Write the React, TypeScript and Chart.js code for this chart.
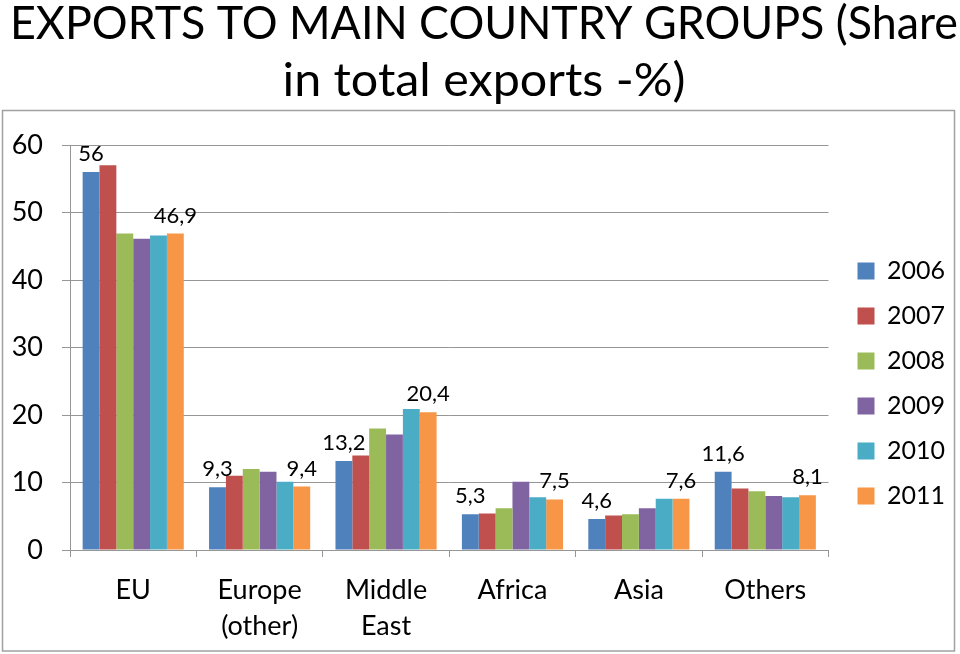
import React, { useEffect, useRef } from 'react';
import { Chart, registerables } from 'chart.js';

Chart.register(...registerables);

const categories: (string | string[])[] = ['EU', ['Europe', '(other)'], ['Middle', 'East'], 'Africa', 'Asia', 'Others'];
const years = ['2006', '2007', '2008', '2009', '2010', '2011'];
const v2006 = [56, 9.3, 13.2, 5.3, 4.6, 11.6];
const v2007 = [57, 11, 14, 5.4, 5.1, 9.1];
const v2008 = [46.9, 12, 18, 6.2, 5.3, 8.7];
const v2009 = [46.1, 11.6, 17.1, 10.1, 6.2, 8];
const v2010 = [46.6, 10.1, 20.9, 7.8, 7.6, 7.8];
const v2011 = [46.9, 9.4, 20.4, 7.5, 7.6, 8.1];
const seriesValues = [v2006, v2007, v2008, v2009, v2010, v2011];
const colors = ['#4F81BD', '#C0504D', '#9BBB59', '#8064A2', '#4BACC6', '#F79646'];
const yTicks = [0, 10, 20, 30, 40, 50, 60];
const titleLines = ['EXPORTS TO MAIN COUNTRY GROUPS (Share', 'in total exports -%)'];
const labeledSeries = [0, 5];

const FONT = 'Lato';
const GRID = '#969696';

const frameTitlePlugin = {
  id: 'frameTitle',
  beforeDraw(chart: any) {
    const ctx = chart.ctx;
    ctx.save();
    ctx.fillStyle = '#ffffff';
    ctx.fillRect(0, 0, chart.width, chart.height);
    ctx.strokeStyle = '#a0a0a0';
    ctx.lineWidth = 1.5;
    ctx.strokeRect(2.5, 110.5, 952, 540.5);
    ctx.font = `47px ${FONT}`;
    ctx.fillStyle = '#000';
    ctx.textAlign = 'center';
    ctx.textBaseline = 'alphabetic';
    const targets = [948, 403];
    const baselines = [39, 96];
    titleLines.forEach((line, i) => {
      const w = ctx.measureText(line).width;
      ctx.save();
      ctx.translate(484, baselines[i]);
      ctx.scale(targets[i] / w, 1);
      ctx.fillText(line, 0, 0);
      ctx.restore();
    });
    ctx.restore();
  },
};

const dataLabelPlugin = {
  id: 'dataLabels',
  afterDatasetsDraw(chart: any) {
    const ctx = chart.ctx;
    ctx.save();
    ctx.font = `22px ${FONT}`;
    ctx.fillStyle = '#000';
    ctx.textAlign = 'center';
    ctx.textBaseline = 'middle';
    labeledSeries.forEach((di) => {
      const meta = chart.getDatasetMeta(di);
      meta.data.forEach((el: any, i: number) => {
        const val = chart.data.datasets[di].data[i];
        ctx.fillText(String(val).replace('.', ','), el.x, el.y - 18);
      });
    });
    ctx.restore();
  },
};

export default function App() {
  const canvasRef = useRef<HTMLCanvasElement>(null);

  useEffect(() => {
    if (!canvasRef.current) return;
    const chart = new Chart(canvasRef.current, {
      type: 'bar',
      data: {
        labels: categories as any,
        datasets: years.map((y, i) => ({
          label: y,
          data: seriesValues[i],
          backgroundColor: colors[i],
          borderWidth: 0,
          categoryPercentage: 0.8,
          barPercentage: 1.0,
        })),
      },
      options: {
        responsive: false,
        animation: false,
        layout: { padding: { top: 123, left: 10, right: 5, bottom: 10 } },
        plugins: {
          title: { display: false },
          tooltip: { enabled: false },
          legend: {
            position: 'right',
            align: 'center',
            labels: {
              boxWidth: 17,
              boxHeight: 17,
              padding: 20,
              color: '#000',
              font: { family: FONT, size: 25 },
            },
          },
        },
        scales: {
          x: {
            grid: {
              display: true,
              drawOnChartArea: false,
              drawTicks: true,
              tickLength: 7,
              offset: true,
              color: GRID,
            },
            border: { display: true, color: GRID },
            ticks: {
              color: '#000',
              font: { family: FONT, size: 27, lineHeight: 36 / 27 },
              padding: 15,
              maxRotation: 0,
              autoSkip: false,
            },
            afterFit: (s: any) => {
              s.height = 94;
            },
          },
          x2: {
            type: 'category',
            position: 'top',
            display: true,
            grid: { display: false },
            ticks: { display: false },
            border: { display: false },
            afterFit: (s: any) => {
              s.height = 22;
            },
          },
          y: {
            min: 0,
            max: 60,
            afterBuildTicks: (s: any) => {
              s.ticks = yTicks.map((v) => ({ value: v }));
            },
            ticks: { color: '#000', font: { family: FONT, size: 27 }, padding: 19 },
            grid: { color: GRID, tickLength: 8 },
            border: { display: true, color: GRID },
            afterFit: (s: any) => {
              s.width = 60;
            },
          },
          y2: {
            position: 'right',
            display: true,
            grid: { display: false },
            ticks: { display: false },
            border: { display: false },
            afterFit: (s: any) => {
              s.width = 9;
            },
          },
        },
      } as any,
      plugins: [frameTitlePlugin, dataLabelPlugin],
    });
    return () => chart.destroy();
  }, []);

  return (
    <div style={{ position: 'absolute', left: 0, top: 0, width: 960, height: 654, background: '#fff' }}>
      <canvas ref={canvasRef} width={960} height={654} style={{ display: 'block' }} />
    </div>
  );
}
